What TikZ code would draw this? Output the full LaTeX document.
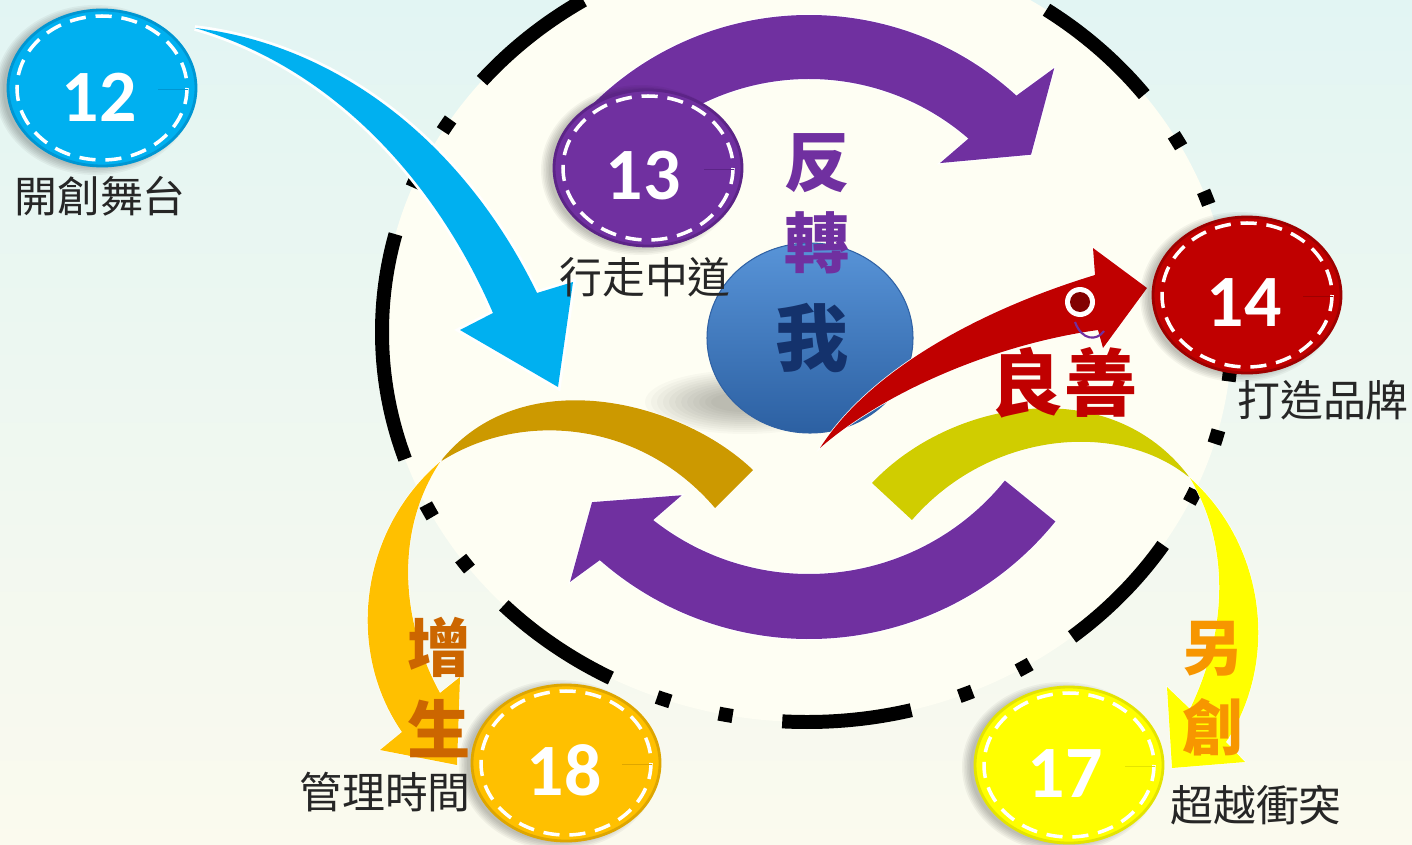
\documentclass[tikz,border=0pt]{standalone}
\usepackage{fontspec}
\newfontfamily\cjk{Noto Sans CJK TC}
\newfontfamily\numf{Carlito}
\usetikzlibrary{calc}
\definecolor{bgtop}{RGB}{226,245,243}
\definecolor{bgbot}{RGB}{251,250,238}
\definecolor{cream}{RGB}{254,254,243}
\definecolor{cblue}{RGB}{0,176,240}
\definecolor{cpurple}{RGB}{112,48,160}
\definecolor{cred}{RGB}{192,0,0}
\definecolor{cgold}{RGB}{204,153,0}
\definecolor{colive}{RGB}{208,205,0}
\definecolor{corange}{RGB}{255,192,0}
\definecolor{cyellow}{RGB}{255,255,0}
\definecolor{czs}{RGB}{204,102,0}
\definecolor{clc}{RGB}{247,150,0}
\definecolor{cwo}{RGB}{20,50,108}
\definecolor{cdred}{RGB}{130,0,0}
\definecolor{sphtop}{RGB}{88,148,216}
\definecolor{sphmid}{RGB}{64,122,194}
\definecolor{sphbot}{RGB}{44,96,162}
\definecolor{sphrim}{RGB}{48,98,165}
\definecolor{rimblue}{RGB}{0,150,210}
\definecolor{rimpurple}{RGB}{92,36,135}
\definecolor{rimred}{RGB}{158,0,0}
\definecolor{rimorange}{RGB}{222,166,0}
\definecolor{rimyellow}{RGB}{228,228,0}
\newcommand\numcircle[4]{%
  \foreach \k in {0,...,5}{
    \fill[black,opacity=.045] (#1-7,#2+2) ellipse[x radius=92+1.6*\k,y radius=77+1.6*\k];
  }
  \fill[#3,draw=#4,line width=4pt] (#1,#2) ellipse[x radius=94,y radius=78];
  \draw[dashring] (#1,#2) ellipse[x radius=85,y radius=72];
  \draw[#4,line width=0.8pt] (#1+56,#2+1) -- (#1+86,#2+1);
}
\begin{document}
\begin{tikzpicture}[x=0.05cm,y=-0.05cm,
  numtxt/.style={text=white,font=\numf\bfseries\fontsize{105pt}{105pt}\selectfont,inner sep=0pt},
  lbl/.style={text=black!85,font=\cjk\fontsize{61pt}{61pt}\selectfont,inner sep=0pt},
  bigchar/.style={font=\cjk\bfseries\fontsize{93pt}{93pt}\selectfont,inner sep=0pt},
  dashring/.style={draw=white,line width=5pt,dash pattern=on 23pt off 14pt},
  glow/.style={preaction={draw=white,line width=#1}},
  bigring/.style={line width=19.9pt,dash pattern=on 184.9pt off 71.1pt on 19.9pt off 71.1pt on 19.9pt off 71.1pt}]
\useasboundingbox (0,0) rectangle (1412,845);
\shade[top color=bgtop,bottom color=bgbot] (0,0) rectangle (1412,845);
% big dash-dot ellipse
\coordinate (E) at (807,332);
\fill[cream] (E) ellipse[x radius=425,y radius=390];
\draw[bigring] (E) ++(180:425 and 390) arc[start angle=180,end angle=-180,x radius=425,y radius=390];
% sphere shadow (soft)
\foreach \k in {0,...,11}{
  \fill[black,opacity=.022] (745,402) ellipse[x radius=100-6*\k,y radius=32-2*\k];
}
% purple arrows
\fill[cpurple,glow=3pt,shift={(809,322)}] (-140:307) arc[start angle=-140,end angle=-47.5,radius=307]
  -- (-46:353) -- (-37:278) -- (-50.5:206) -- (-49:243) arc[start angle=-49,end angle=-140,radius=243] -- cycle;
\fill[cpurple,glow=3pt,shift={(809,322)}] (39:317) arc[start angle=39,end angle=131.3,radius=317]
  -- (132.6:353) -- (140.3:282) -- (126.3:215) -- (128.2:252) arc[start angle=128.2,end angle=39,radius=252] -- cycle;
% crescents
\fill[cgold,glow=1.5pt] (753,470) .. controls (680,400) and (520,360) .. (440,462)
  .. controls (520,410) and (640,420) .. (715,508) -- cycle;
\fill[colive,glow=1.5pt] (872,483) .. controls (950,400) and (1110,370) .. (1190,478)
  .. controls (1120,420) and (990,430) .. (912,520) -- cycle;
\fill[corange,glow=1.5pt] (440,462) .. controls (360,530) and (345,650) .. (402,732) -- (380,750) -- (457,765)
  -- (460,677) -- (440,693) .. controls (400,620) and (395,530) .. (440,462) -- cycle;
\fill[cyellow,glow=1.5pt] (1190,478) .. controls (1265,545) and (1280,660) .. (1226,742) -- (1245,762) -- (1172,768)
  -- (1167,687) -- (1190,709) .. controls (1228,630) and (1230,545) .. (1190,478) -- cycle;
% blue arrow
\fill[cblue,glow=8pt] (195,28) .. controls (340,45) and (465,145) .. (537,293) -- (573,282) -- (558,387)
  -- (460,330) -- (493,313) .. controls (440,190) and (340,70) .. (195,28) -- cycle;
% sphere
\shade[top color=sphtop,middle color=sphmid,bottom color=sphbot] (810,338) ellipse[x radius=103,y radius=95];
\draw[sphrim,line width=1.5pt] (810,338) ellipse[x radius=103,y radius=95];
% red arrow
\fill[cred,glow=2pt] (820,448) .. controls (870,370) and (980,310) .. (1095,275) -- (1093,248) -- (1147,288)
  -- (1103,348) -- (1098,330) .. controls (990,345) and (880,395) .. (820,448) -- cycle;
\draw[cpurple,line width=3pt] (1075,322) .. controls (1082,341) and (1097,341) .. (1104,331);
\fill[white] (1080,302) circle[radius=15];
\fill[cdred] (1080,302) circle[radius=10];
% numbered circles
\numcircle{102}{88}{cblue}{rimblue}
\numcircle{648}{168}{cpurple}{rimpurple}
\numcircle{1247}{295}{cred}{rimred}
\numcircle{566}{763}{corange}{rimorange}
\numcircle{1069}{765}{cyellow}{rimyellow}
% numbers
\node[numtxt] (n12) at (99,97) {12};
\node[numtxt] (n13) at (643,176) {13};
\node[numtxt] (n14) at (1244,303) {14};
\node[numtxt] (n18) at (564,770) {18};
\node[numtxt] (n17) at (1065,774) {17};
% captions
\node[lbl] (l12) at (100,196) {開創舞台};
\node[lbl] (l13) at (645,277) {行走中道};
\node[lbl] (l14) at (1323,400) {打造品牌};
\node[lbl] (l18) at (385,792) {管理時間};
\node[lbl] (l17) at (1256,805) {超越衝突};
% big characters
\node[bigchar,text=cpurple] (fan) at (817,163) {反};
\node[bigchar,text=cpurple] (zhuan) at (817,243) {轉};
\node[bigchar,text=cwo,font=\cjk\bfseries\fontsize{104pt}{104pt}\selectfont] (wo) at (812,338) {我};
\node[bigchar,text=cred,font=\cjk\bfseries\fontsize{104pt}{104pt}\selectfont] (ls) at (1064,383) {良善};
\node[bigchar,text=czs,font=\cjk\bfseries\fontsize{90pt}{90pt}\selectfont] (zeng) at (439,647) {增};
\node[bigchar,text=czs,font=\cjk\bfseries\fontsize{90pt}{90pt}\selectfont] (sheng) at (439,729) {生};
\node[bigchar,text=clc,font=\cjk\bfseries\fontsize{86pt}{86pt}\selectfont] (ling) at (1213,649) {另};
\node[bigchar,text=clc,font=\cjk\bfseries\fontsize{86pt}{86pt}\selectfont] (chuang) at (1213,727) {創};
\end{tikzpicture}
\end{document}
